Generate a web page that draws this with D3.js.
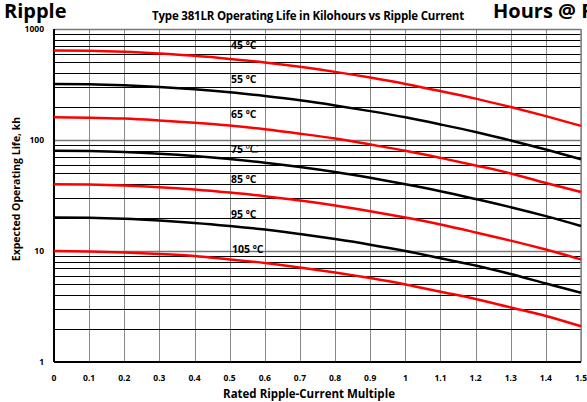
<!DOCTYPE html>
<html>
<head>
<meta charset="utf-8">
<script src="https://cdn.jsdelivr.net/npm/d3@7"></script>
<style>
  body { margin: 0; background: #fff; }
  text { font-family: "Open Sans", "Noto Sans", sans-serif; font-weight: bold; }
</style>
</head>
<body>
<svg id="chart" width="587" height="402"></svg>
<script>
// ripple-current multiple (x)
const multiples = [0, 0.1, 0.2, 0.3, 0.4, 0.5, 0.6, 0.7, 0.8, 0.9, 1, 1.1, 1.2, 1.3, 1.4, 1.5];
const xTicks = ["0", "0.1", "0.2", "0.3", "0.4", "0.5", "0.6", "0.7", "0.8", "0.9", "1", "1.1", "1.2", "1.3", "1.4", "1.5"];
const yTicks = [1, 10, 100, 1000];

// life in kilohours
const life45 = [640, 636, 623, 601, 573, 538, 499, 456, 411, 365, 320, 276, 236, 198, 164, 134];
const life55 = [320, 318, 311, 300, 286, 269, 249, 228, 205, 182, 160, 138, 118, 99, 82, 67];
const life65 = [160, 159, 156, 150, 143, 135, 125, 114, 103, 91, 80, 69, 59, 50, 41, 34];
const life75 = [80, 79.4, 77.8, 75.1, 71.6, 67.3, 62.3, 57, 51.4, 45.6, 40, 34.6, 29.4, 24.8, 20.6, 16.8];
const life85 = [40, 39.7, 38.9, 37.6, 35.8, 33.6, 31.2, 28.5, 25.7, 22.8, 20, 17.3, 14.7, 12.4, 10.3, 8.4];
const life95 = [20, 19.9, 19.5, 18.8, 17.9, 16.8, 15.6, 14.2, 12.8, 11.4, 10, 8.6, 7.4, 6.2, 5.1, 4.2];
const life105 = [10, 9.9, 9.7, 9.4, 9.0, 8.4, 7.8, 7.1, 6.4, 5.7, 5.0, 4.3, 3.7, 3.1, 2.6, 2.1];

const temps = ["45", "55", "65", "75", "85", "95", "105"];
const series = [
  { temp: temps[0], values: life45, color: "#ff0000" },
  { temp: temps[1], values: life55, color: "#000" },
  { temp: temps[2], values: life65, color: "#ff0000" },
  { temp: temps[3], values: life75, color: "#000" },
  { temp: temps[4], values: life85, color: "#ff0000" },
  { temp: temps[5], values: life95, color: "#000" },
  { temp: temps[6], values: life105, color: "#ff0000" }
];

const svg = d3.select("#chart");
const plotL = 54, plotR = 581, plotT = 29, plotB = 362;

const x = d3.scaleLinear().domain([0, 1.5]).range([plotL, plotR]);
const y = d3.scaleLog().domain([1, 1000]).range([plotB, plotT]);

// vertical grid
svg.append("g")
  .selectAll("line")
  .data(multiples)
  .join("line")
  .attr("x1", d => Math.round(x(d)) + 0.5).attr("x2", d => Math.round(x(d)) + 0.5)
  .attr("y1", plotT).attr("y2", plotB)
  .attr("stroke", "#888").attr("stroke-width", 1);

// horizontal grid: minor lines black, decades gray
const minor = [];
[1, 10, 100].forEach(dec => {
  for (let k = 2; k <= 9; k++) minor.push(dec * k);
});
svg.append("g")
  .selectAll("line")
  .data(minor)
  .join("line")
  .attr("x1", plotL).attr("x2", plotR)
  .attr("y1", d => Math.round(y(d)) + 0.5).attr("y2", d => Math.round(y(d)) + 0.5)
  .attr("stroke", "#000").attr("stroke-width", 1);
svg.append("g")
  .selectAll("line")
  .data([10, 100, 1000])
  .join("line")
  .attr("x1", plotL).attr("x2", plotR)
  .attr("y1", d => Math.round(y(d)) + 0.5).attr("y2", d => Math.round(y(d)) + 0.5)
  .attr("stroke", "#777").attr("stroke-width", 1.5);

// right border
svg.append("line")
  .attr("x1", plotR).attr("x2", plotR).attr("y1", plotT).attr("y2", plotB)
  .attr("stroke", "#888").attr("stroke-width", 1.5);

// axes lines
svg.append("line")
  .attr("x1", plotL).attr("x2", plotL).attr("y1", plotT).attr("y2", plotB)
  .attr("stroke", "#000").attr("stroke-width", 2);
svg.append("line")
  .attr("x1", plotL).attr("x2", plotR).attr("y1", plotB).attr("y2", plotB)
  .attr("stroke", "#000").attr("stroke-width", 2);

// y tick labels
svg.append("g")
  .selectAll("text")
  .data(yTicks)
  .join("text")
  .attr("x", plotL - 10)
  .attr("y", d => y(d) + 3)
  .attr("text-anchor", "end")
  .attr("font-size", 8.5)
  .text(d => d);

// x tick labels
svg.append("g")
  .selectAll("text")
  .data(multiples)
  .join("text")
  .attr("x", d => x(d))
  .attr("y", 381)
  .attr("text-anchor", "middle")
  .attr("font-size", 8.5)
  .text((d, i) => xTicks[i]);

// curves
const line = d3.line()
  .x((d, i) => x(multiples[i]))
  .y(d => y(d))
  .curve(d3.curveMonotoneX);

svg.append("g")
  .selectAll("path")
  .data(series)
  .join("path")
  .attr("d", d => line(d.values))
  .attr("fill", "none")
  .attr("stroke", d => d.color)
  .attr("stroke-width", 2.5);

// curve labels
const labelY = [49, 83, 118, 153, 183, 218, 253];
const labels = svg.append("g")
  .selectAll("text")
  .data(series)
  .join("text")
  .attr("x", (d, i) => i == 6 ? 232 : 231)
  .attr("y", (d, i) => labelY[i])
  .attr("font-size", 10.5);
labels.append("tspan").text(d => d.temp + " ");
labels.append("tspan")
  .attr("font-size", (d, i) => i == 3 ? 13 : 10.5)
  .attr("font-family", (d, i) => i == 3 ? "'Liberation Serif', serif" : null)
  .attr("font-weight", (d, i) => i == 3 ? "normal" : null)
  .text("ºC");

// titles (the two big ones are clipped by the frame, as in the original)
svg.append("text")
  .attr("x", 4).attr("y", 18)
  .attr("font-size", 20)
  .text("Ripple");
svg.append("text")
  .attr("x", 493).attr("y", 18)
  .attr("font-size", 20)
  .text("Hours @ Rated");
svg.append("text")
  .attr("x", 308).attr("y", 20)
  .attr("text-anchor", "middle")
  .attr("font-size", 11.5)
  .attr("letter-spacing", -0.2)
  .text("Type 381LR Operating Life in Kilohours vs Ripple Current");
svg.append("text")
  .attr("x", 309).attr("y", 398)
  .attr("text-anchor", "middle")
  .attr("font-size", 11.5)
  .text("Rated Ripple-Current Multiple");
svg.append("text")
  .attr("transform", "translate(20,189) rotate(-90)")
  .attr("text-anchor", "middle")
  .attr("font-size", 10.5)
  .text("Expected Operating Life, kh");
</script>
</body>
</html>
